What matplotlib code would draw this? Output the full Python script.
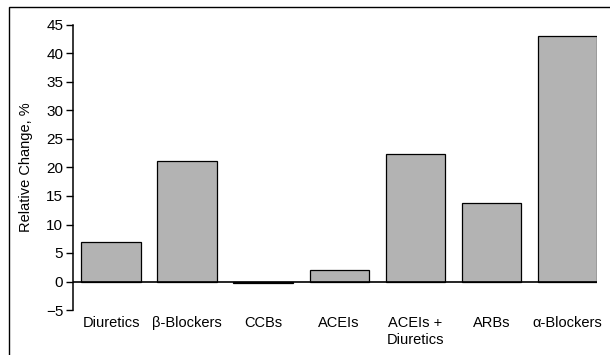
import matplotlib
matplotlib.use("Agg")
import matplotlib.pyplot as plt
from matplotlib.patches import Rectangle

categories = ["Diuretics", "β-Blockers", "CCBs", "ACEIs", "ACEIs +\nDiuretics", "ARBs", "α-Blockers"]
values = [6.9, 21.1, -0.3, 2.0, 22.3, 13.7, 43.1]
yticks = [-5, 0, 5, 10, 15, 20, 25, 30, 35, 40, 45]

plt.rcParams['font.family'] = ['Liberation Sans', 'DejaVu Sans']

fig = plt.figure(figsize=(6.1, 3.55), dpi=100)
ax = fig.add_axes([73/610, 1-310/355, (597-73)/610, (310-25)/355])

x = list(range(len(categories)))
ax.bar(x, values, width=0.78, color="#b3b3b3", edgecolor="black", linewidth=0.9, zorder=2)
ax.axhline(0, color="black", linewidth=1.2, zorder=3)

ax.set_xlim(-0.5, 6.39)
ax.set_ylim(-5, 45)
ax.set_yticks(yticks)
ax.set_yticklabels(["−5"] + [str(t) for t in yticks[1:]])
ax.set_xticks(x)
ax.set_xticklabels(categories, va="top", linespacing=1.3)
ax.tick_params(axis="x", length=0, pad=4, labelsize=10.5)
ax.tick_params(axis="y", direction="out", length=5, width=1, pad=2, labelsize=11)
for s in ["top", "right", "bottom"]:
    ax.spines[s].set_visible(False)
ax.spines["left"].set_linewidth(1.1)
ax.set_ylabel("Relative Change, %", fontsize=10.5, labelpad=9)

fig.patches.append(Rectangle((9/610, -0.1), 1.2, 1 - 7/355 + 0.1, transform=fig.transFigure,
                             fill=False, edgecolor="black", linewidth=1.0))

fig.savefig("out.png", dpi=100)
